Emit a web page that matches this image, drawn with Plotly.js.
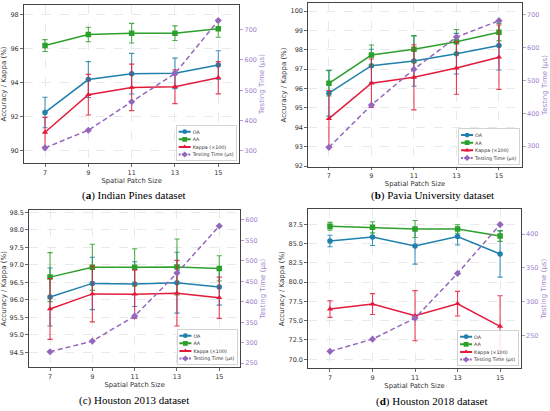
<!DOCTYPE html>
<html>
<head>
<meta charset="utf-8">
<script src="https://cdn.plot.ly/plotly-3.0.1.min.js"></script>
<style>
html,body{margin:0;padding:0;background:#fff;}
#chart{width:550px;height:411px;}
</style>
</head>
<body>
<div id="chart"></div>
<script>
// ---------- data ----------
const patchSizes = [7, 9, 11, 13, 15];
const seriesNames = ['OA', 'AA', 'Kappa (×100)', 'Testing Time (μs)'];
const datasetCaptions = ['(<b>a</b>) Indian Pines dataset', '(<b>b</b>) Pavia University dataset', '(c) Houston 2013 dataset', '(<b>d</b>) Houston 2018 dataset'];

// Indian Pines
const ipOA = [92.24, 94.18, 94.53, 94.55, 95.04];
const ipOAStd = [0.90, 1.06, 1.20, 0.90, 0.84];
const ipAA = [96.19, 96.84, 96.92, 96.92, 97.18];
const ipAAStd = [0.35, 0.43, 0.58, 0.43, 0.50];
const ipKappa = [91.07, 93.29, 93.72, 93.76, 94.29];
const ipKappaStd = [0.88, 1.20, 1.37, 1.00, 0.95];
const ipTime = [310, 368, 462, 555, 730];

// Pavia University
const puOA = [95.76, 97.18, 97.42, 97.80, 98.22];
const puOAStd = [1.18, 0.85, 1.30, 1.05, 1.26];
const puAA = [96.27, 97.73, 98.03, 98.42, 98.91];
const puAAStd = [0.65, 0.52, 0.70, 0.63, 0.45];
const puKappa = [94.45, 96.28, 96.58, 97.06, 97.62];
const puKappaStd = [1.45, 1.25, 1.68, 1.35, 1.66];
const puTime = [296, 425, 534, 632, 682];

// Houston 2013
const h13OA = [96.08, 96.47, 96.45, 96.49, 96.37];
const h13OAStd = [0.83, 0.75, 0.64, 0.87, 0.52];
const h13AA = [96.65, 96.93, 96.93, 96.94, 96.90];
const h13AAStd = [0.70, 0.66, 0.53, 0.80, 0.36];
const h13Kappa = [95.74, 96.17, 96.16, 96.19, 96.06];
const h13KappaStd = [0.87, 0.80, 0.69, 0.94, 0.59];
const h13Time = [278, 304, 365, 470, 585];

// Houston 2018
const h18OA = [85.33, 85.85, 84.69, 85.92, 83.65];
const h18OAStd = [0.75, 1.10, 2.35, 1.10, 3.00];
const h18AA = [87.24, 87.11, 86.89, 86.89, 85.98];
const h18AAStd = [0.50, 0.72, 1.10, 0.55, 0.70];
const h18Kappa = [76.51, 77.16, 75.65, 77.20, 74.27];
const h18KappaStd = [1.08, 1.35, 3.25, 1.60, 3.97];
const h18Time = [227, 245, 276, 342, 414];

const panels = [
  {oa: ipOA, oaS: ipOAStd, aa: ipAA, aaS: ipAAStd, k: ipKappa, kS: ipKappaStd, t: ipTime},
  {oa: puOA, oaS: puOAStd, aa: puAA, aaS: puAAStd, k: puKappa, kS: puKappaStd, t: puTime},
  {oa: h13OA, oaS: h13OAStd, aa: h13AA, aaS: h13AAStd, k: h13Kappa, kS: h13KappaStd, t: h13Time},
  {oa: h18OA, oaS: h18OAStd, aa: h18AA, aaS: h18AAStd, k: h18Kappa, kS: h18KappaStd, t: h18Time}
];

// ---------- styles / layout ----------
const W = 550, H = 411;
const colOA = '#2080ad', colAA = '#2ca02c', colK = '#e41a3a', colT = '#9467bd';
const rightCol = '#a083cc';
// frame boxes in px: [left, right, top, bottom]
const frames = [
  [24, 239.3, 4.7, 163.3],
  [308.3, 521.7, 3.3, 166.7],
  [29.3, 240, 210, 367.3],
  [308.3, 520.7, 209, 368.3]
];
const leftRanges = [[89.24, 98.6], [91.97, 100.4], [94.07, 98.57], [68.83, 89.48]];
const rightRanges = [[259, 782], [237, 735], [240, 624], [202, 437]];
const xRanges = [[6.03, 15.97], [6.03, 16.07], [6.02, 15.98], [5.98, 15.97]];
const leftDticks = [2, 1, 0.5, 2.5];
const leftFormats = ['d', 'd', '.1f', '.1f'];
const rightDticks = [100, 100, 50, 50];
const captionPos = [[134, 195], [432, 195], [134, 400], [432, 401]];

const data = [];
const layout = {
  width: W, height: H,
  margin: {l: 0, r: 0, t: 0, b: 0},
  paper_bgcolor: '#ffffff', plot_bgcolor: '#ffffff',
  font: {family: 'DejaVu Sans', size: 6.5, color: '#333'},
  showlegend: true,
  annotations: []
};

function errCfg(arr, col) {
  return {type: 'data', array: arr, visible: true, color: col, thickness: 1.1, width: 2.6};
}

panels.forEach((p, i) => {
  const xa = 'x' + (i ? i + 1 : '');
  const yl = 'y' + (i ? 2 * i + 1 : '');
  const yr = 'y' + (2 * i + 2);
  const lg = 'legend' + (i ? i + 1 : '');
  const common = {x: patchSizes, xaxis: xa, legend: lg, type: 'scatter', mode: 'lines+markers'};
  data.push(Object.assign({}, common, {y: p.oa, yaxis: yl, name: seriesNames[0],
    line: {color: colOA, width: 1.5}, marker: {symbol: 'circle', size: 5.5, color: colOA, line: {color: colOA, width: 0}},
    error_y: errCfg(p.oaS, 'rgba(32,128,173,0.85)')}));
  data.push(Object.assign({}, common, {y: p.aa, yaxis: yl, name: seriesNames[1],
    line: {color: colAA, width: 1.5}, marker: {symbol: 'square', size: 5.5, color: colAA, line: {color: colAA, width: 0}},
    error_y: errCfg(p.aaS, 'rgba(44,160,44,0.85)')}));
  data.push(Object.assign({}, common, {y: p.k, yaxis: yl, name: seriesNames[2],
    line: {color: colK, width: 1.5}, marker: {symbol: 'triangle-up', size: 5.5, color: colK, line: {color: colK, width: 0}},
    error_y: errCfg(p.kS, 'rgba(228,26,58,0.85)')}));
  data.push(Object.assign({}, common, {y: p.t, yaxis: yr, name: seriesNames[3],
    line: {color: colT, width: 1.5, dash: '5px,3px'}, marker: {symbol: 'diamond', size: 5.5, color: colT, line: {color: colT, width: 0}}}));

  const f = frames[i];
  const xd = [f[0] / W, f[1] / W];
  const yd = [1 - f[3] / H, 1 - f[2] / H];
  const xk = 'xaxis' + (i ? i + 1 : '');
  const ylk = 'yaxis' + (i ? 2 * i + 1 : '');
  const yrk = 'yaxis' + (2 * i + 2);
  layout[xk] = {
    domain: xd, anchor: yl, range: xRanges[i],
    tickmode: 'array', tickvals: patchSizes, ticktext: patchSizes.map(String),
    showgrid: true, gridcolor: '#e3e3e3', griddash: 'dash', gridwidth: 0.8,
    showline: true, linecolor: '#444', linewidth: 1, mirror: true,
    ticks: 'outside', ticklen: 2.5, tickwidth: 0.8, tickcolor: '#444',
    tickfont: {size: 6.5, color: '#333'}, zeroline: false, automargin: false,
    title: {text: 'Spatial Patch Size', font: {size: 6.8, color: '#333'}, standoff: 0}
  };
  layout[ylk] = {
    domain: yd, anchor: xa, range: leftRanges[i], dtick: leftDticks[i], tick0: 0, tickformat: leftFormats[i],
    showgrid: true, gridcolor: '#e3e3e3', griddash: 'dash', gridwidth: 0.8,
    showline: true, linecolor: '#444', linewidth: 1,
    ticks: 'outside', ticklen: 3, tickwidth: 0.8, tickcolor: '#444',
    tickfont: {size: 6.5, color: '#333'}, zeroline: false, automargin: false,
    title: {text: 'Accuracy / Kappa (%)', font: {size: 7, color: '#333'}, standoff: 3}
  };
  layout[yrk] = {
    overlaying: yl, side: 'right', anchor: xa, range: rightRanges[i], dtick: rightDticks[i], tick0: 0,
    showgrid: false, showline: true, linecolor: '#444', linewidth: 1,
    ticks: 'outside', ticklen: 3, tickwidth: 0.8, tickcolor: rightCol,
    tickfont: {size: 6.5, color: rightCol}, zeroline: false, automargin: false,
    title: {text: 'Testing Time (μs)', font: {size: 7, color: rightCol}, standoff: 3}
  };
  layout[lg] = {
    x: (f[1] - 3) / W, y: 1 - (f[3] - 3) / H, xanchor: 'right', yanchor: 'bottom',
    font: {size: 12, color: '#333', family: 'DejaVu Sans'},
    bgcolor: 'rgba(255,255,255,0.85)', bordercolor: '#c8c8c8', borderwidth: 2,
    itemsizing: 'constant', tracegroupgap: 0
  };
  layout.annotations.push({
    xref: 'paper', yref: 'paper', x: captionPos[i][0] / W, y: 1 - captionPos[i][1] / H,
    xanchor: 'center', yanchor: 'middle',
    text: datasetCaptions[i], showarrow: false,
    font: {family: 'Liberation Serif', size: 11, color: '#000'}
  });
});

Plotly.newPlot('chart', data, layout, {staticPlot: true, displayModeBar: false}).then(gd => {
  const s = 0.4;
  ['legend', 'legend2', 'legend3', 'legend4'].forEach((id, i) => {
    const g = gd.querySelector('.infolayer > g.' + id);
    if (!g) return;
    const bg = g.querySelector('rect.bg');
    const w = parseFloat(bg.getAttribute('width')) || 0;
    const h = parseFloat(bg.getAttribute('height')) || 0;
    const f = frames[i];
    const R = f[1] - 3, B = f[3] - 3;
    g.setAttribute('transform', 'translate(' + (R - w * s) + ',' + (B - h * s) + ') scale(' + s + ')');
  });
});
</script>
</body>
</html>
